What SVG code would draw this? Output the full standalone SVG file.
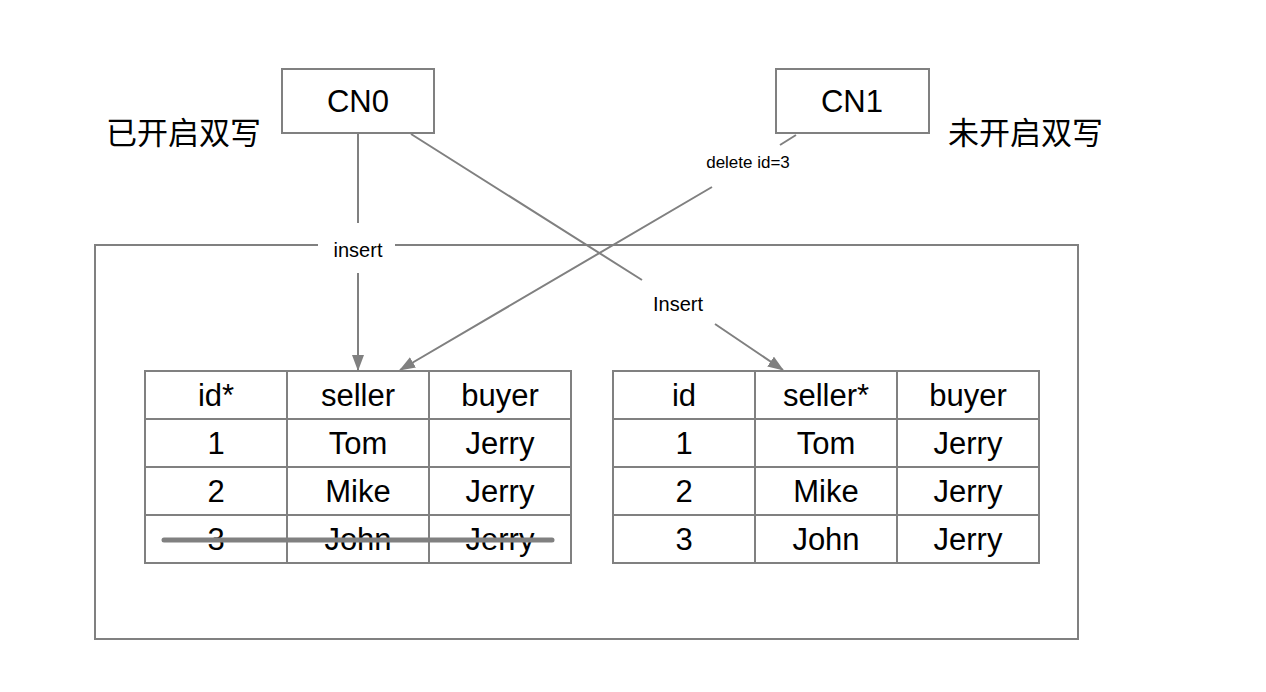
<svg xmlns="http://www.w3.org/2000/svg" width="1266" height="692" viewBox="0 0 1266 692">
<style>
.b{fill:#fff;stroke:#808080;stroke-width:2}
.l{stroke:#808080;stroke-width:2;fill:none}
.t{font-family:"Liberation Sans",Arial,sans-serif;font-size:31px;fill:#000;text-anchor:middle}
.s{font-family:"Liberation Sans",Arial,sans-serif;font-size:20px;fill:#000;text-anchor:middle}
.c{font-family:"Noto Sans CJK SC",sans-serif;font-size:31px;fill:#000}
</style>
<defs>
<marker id="ah" viewBox="0 0 16 12" refX="15" refY="6" markerWidth="16" markerHeight="12" markerUnits="userSpaceOnUse" orient="auto">
<path d="M0,0 L16,6 L0,12 z" fill="#808080"/>
</marker>
</defs>
<rect width="1266" height="692" fill="#fff"/>
<g id="container"><rect class="b" x="95" y="245" width="983" height="394"/></g>
<g id="cn0"><rect class="b" x="282" y="69" width="152" height="64"/><text class="t" x="358" y="112">CN0</text></g>
<g id="cn1"><rect class="b" x="776" y="69" width="153" height="64"/><text class="t" x="852" y="112">CN1</text></g>
<g id="label-left"><text class="c" x="106" y="144">已开启双写</text></g>
<g id="label-right"><text class="c" x="948" y="144">未开启双写</text></g>
<g id="table-left">
<rect class="b" x="145" y="371" width="426" height="192"/>
<path class="l" d="M287,371V563M429,371V563M145,419H571M145,467H571M145,515H571"/>
<text class="t" x="216" y="406">id*</text><text class="t" x="358" y="406">seller</text><text class="t" x="500" y="406">buyer</text>
<text class="t" x="216" y="454">1</text><text class="t" x="358" y="454">Tom</text><text class="t" x="500" y="454">Jerry</text>
<text class="t" x="216" y="502">2</text><text class="t" x="358" y="502">Mike</text><text class="t" x="500" y="502">Jerry</text>
<text class="t" x="216" y="550">3</text><text class="t" x="358" y="550">John</text><text class="t" x="500" y="550">Jerry</text>
<line x1="164" y1="540" x2="552" y2="540" stroke="#808080" stroke-width="5" stroke-linecap="round"/>
</g>
<g id="table-right">
<rect class="b" x="613" y="371" width="426" height="192"/>
<path class="l" d="M755,371V563M897,371V563M613,419H1039M613,467H1039M613,515H1039"/>
<text class="t" x="684" y="406">id</text><text class="t" x="826" y="406">seller*</text><text class="t" x="968" y="406">buyer</text>
<text class="t" x="684" y="454">1</text><text class="t" x="826" y="454">Tom</text><text class="t" x="968" y="454">Jerry</text>
<text class="t" x="684" y="502">2</text><text class="t" x="826" y="502">Mike</text><text class="t" x="968" y="502">Jerry</text>
<text class="t" x="684" y="550">3</text><text class="t" x="826" y="550">John</text><text class="t" x="968" y="550">Jerry</text>
</g>
<g id="connectors">
<path class="l" d="M358,133V223M358,273V370" marker-end="url(#ah)"/>
<rect x="318" y="238" width="77" height="24" fill="#fff"/>
<text class="s" x="358" y="257">insert</text>
<path class="l" d="M411,134L642,280M715,324L783,370" marker-end="url(#ah)"/>
<text class="s" x="678" y="311">Insert</text>
<path class="l" d="M796,135L780,145M712,187L400,370" marker-end="url(#ah)"/>
<text class="s" x="748" y="168" style="font-size:17px">delete id=3</text>
</g>
</svg>
